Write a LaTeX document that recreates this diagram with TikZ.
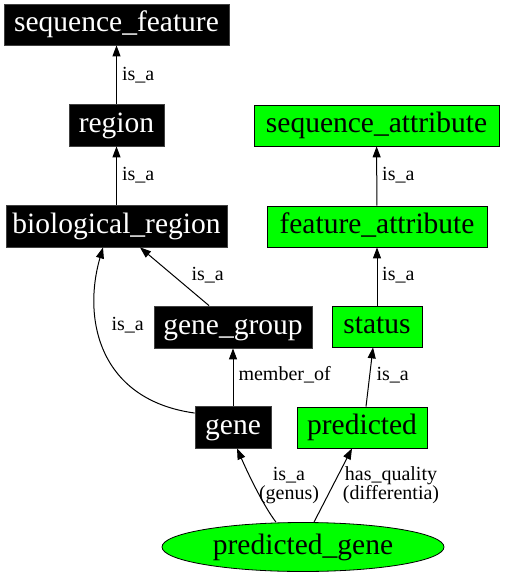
\documentclass[tikz,border=0pt]{standalone}
\usepackage{fontspec}
\setmainfont{Liberation Serif}
\usetikzlibrary{arrows.meta,shapes.geometric}
\definecolor{ggreen}{HTML}{00FF00}
\begin{document}
\begin{tikzpicture}[x=1pt,y=-1pt,
  nodefont/.style={font=\fontsize{29.5}{32}\selectfont, inner sep=0pt, text height=20.5pt, text depth=6.5pt},
  blk/.style={nodefont, rectangle, fill=black, draw=black!75, line width=0.8pt, text=white},
  grn/.style={nodefont, rectangle, fill=ggreen, draw=black, line width=0.8pt, text=black},
  ell/.style={nodefont, ellipse, fill=ggreen, draw=black, line width=0.8pt, text=black},
  edge/.style={draw=black, line width=1pt, -{Triangle[length=11pt,width=8pt]}},
  lbl/.style={font=\fontsize{20}{19}\selectfont, inner sep=0pt, align=center, anchor=base west}
]
\useasboundingbox (0,0) rectangle (504,576);

\node[blk, minimum width=225pt, minimum height=41pt] (sf) at (116.5,24.5) {sequence\_feature};
\node[blk, minimum width=95pt, minimum height=42pt] (reg) at (116.5,125) {region};
\node[blk, minimum width=221pt, minimum height=42pt] (bio) at (116.5,226) {biological\_region};
\node[blk, minimum width=158pt, minimum height=42pt] (gg) at (233,327) {gene\_group};
\node[blk, minimum width=76pt, minimum height=42pt] (gene) at (233,427) {gene};
\node[grn, minimum width=245pt, minimum height=41pt] (sa) at (376.5,125.5) {sequence\_attribute};
\node[grn, minimum width=220pt, minimum height=41pt] (fa) at (377,226.5) {feature\_attribute};
\node[grn, minimum width=90pt, minimum height=41pt] (st) at (377,326.5) {status};
\node[grn, minimum width=130pt, minimum height=41pt] (pred) at (362,427.5) {predicted};
\node[ell, minimum width=282pt, minimum height=49pt] (pg) at (303,547) {predicted\_gene};

\draw[edge] (reg) -- (sf) node[lbl] (l1) at (121.5,80) {is\_a};
\draw[edge] (bio) -- (reg) node[lbl] (l2) at (121.5,180) {is\_a};
\draw[edge] ([xshift=-24pt]gg.north) -- ([xshift=23.5pt]bio.south) node[lbl] (l3) at (191,280) {is\_a};
\draw[edge] (gene.160) .. controls (100,400) and (82,320) .. ([xshift=-13.5pt]bio.south) node[lbl] (l4) at (111,330.7) {is\_a};
\draw[edge] (gene) -- (gg) node[lbl] (l5) at (238,380.7) {member\_of};
\draw[edge] (fa) -- (sa) node[lbl] (l6) at (381.7,180) {is\_a};
\draw[edge] (st) -- (fa) node[lbl] (l7) at (381.7,280.7) {is\_a};
\draw[edge] ([xshift=4pt]pred.north) -- ([xshift=-4pt]st.south) node[lbl] (l8) at (376,380.7) {is\_a};
\draw[edge] ([xshift=-27pt]pg.north) .. controls (265,508) and (250,478) .. ([xshift=4pt]gene.south) node[lbl, anchor=center] (l9) at (289,485.5) {is\_a\\(genus)};
\draw[edge] ([xshift=11pt]pg.north) -- ([xshift=-10pt]pred.south) node[lbl, anchor=center] (l10) at (391,485.5) {has\_quality\\(differentia)};
\end{tikzpicture}
\end{document}
